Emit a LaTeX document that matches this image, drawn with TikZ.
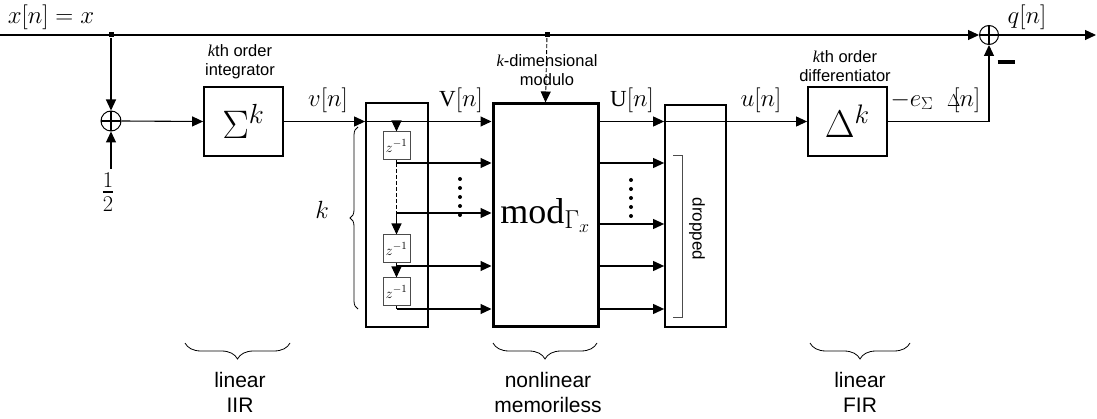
\documentclass[tikz,border=0pt]{standalone}
\usepackage{amsmath}
\usepackage{graphicx}
\usepackage{fontspec}
\setmainfont{Liberation Serif}
\setsansfont{Liberation Sans}
\usetikzlibrary{positioning, arrows.meta, calc, decorations.pathreplacing}

\begin{document}
\begin{tikzpicture}[
    x=1pt, y=-1pt,
    line width=1.1pt,
    >={Triangle[length=11pt,width=10pt]},
    block/.style   ={rectangle, draw, line width=1.8pt, inner sep=0pt, minimum width=79pt, minimum height=69pt, font=\fontsize{24}{26}\selectfont},
    delaybox/.style={rectangle, draw=black!70, line width=1pt, inner sep=0pt, minimum width=27pt, minimum height=28pt, font=\fontsize{15}{15}\selectfont},
    sumnode/.style ={circle, draw, line width=1pt, inner sep=0pt, minimum size=20pt,
                     path picture={\draw[line width=2.4pt] (path picture bounding box.north) -- (path picture bounding box.south)
                                                           (path picture bounding box.west) -- (path picture bounding box.east);}},
    tap/.style     ={rectangle, fill, inner sep=0pt, minimum size=5pt},
    sig/.style     ={font=\fontsize{23}{25}\selectfont, inner sep=1pt},
    note/.style    ={font=\sffamily\fontsize{16.5}{19}\selectfont, align=center},
    group/.style   ={font=\sffamily\fontsize{21}{25}\selectfont, align=center},
    grpbrace/.style={decorate, decoration={brace, amplitude=#1}, line width=0.8pt},
    grpbrace/.default=16pt,
    arrow/.style   ={->},
]
\useasboundingbox (0,0) rectangle (1097,419);

%==================== INPUT AND INTEGRATOR ====================

\coordinate (xin) at (0,35);
\node[tap] (tapx)   at (111,35) {};
\node[tap] (tapmod) at (547,35) {};
\node[sumnode, minimum size=19pt] (sumq) at (989,35) {};
\coordinate (qout) at (1096,35);

\node[sumnode] (sumv) at (111,121) {};
\node[font=\fontsize{24}{26}\selectfont] (half) at (108,192) {\scalebox{1.3}{$\frac{1}{2}$}};

\node[block] (integ) at (243.5,121.5) {\scalebox{1.6}{$\Sigma^{k}$}};

%==================== SHIFT REGISTER ====================

\node[block, minimum width=62pt, minimum height=224pt] (shiftreg) at (397,215) {};
\node[delaybox] (z1) at (396.5,146) {$z^{-1}$};
\node[delaybox] (z2) at (396.5,249) {$z^{-1}$};
\node[delaybox] (z3) at (396.5,292) {$z^{-1}$};

\coordinate (k2) at (396.5,163);
\coordinate (k3) at (396.5,213);
\coordinate (k4) at (396.5,266);
\coordinate (k5) at (396.5,309);

%==================== MODULO, DROP, DIFFERENTIATOR ====================

\node[block, line width=3pt, minimum width=105pt, minimum height=223pt] (modbox) at (545.5,215.5) {\scalebox{1.5}{$\mathrm{mod}_{\Gamma_x}$}};
\node[block, minimum width=61pt, minimum height=222pt] (dropbox) at (695.5,216) {};
\node[rotate=-90, font=\sffamily\fontsize{17}{17}\selectfont] (droplbl) at (697,229) {dropped};
\node[block] (diffr) at (847.5,121.5) {\scalebox{1.55}{$\Delta^{k}$}};

%==================== ARROWS (main flow) ====================

\draw[arrow] (xin) -- (sumq.west);
\draw[arrow] (sumq.east) -- (qout);
\draw[arrow] (tapx) -- (sumv.north);
\draw[arrow] (half.north -| sumv) -- (sumv.south);
\draw[arrow] (sumv.east) -- (integ.west);
\draw[arrow] (integ.east) -- (shiftreg.west |- integ.east);
\draw[arrow] (shiftreg.west |- integ.east) -- (modbox.west |- integ.east);

% delay chain
\draw[arrow] (z1.north |- integ.east) -- (z1.north);
\draw (z1.south) -- (k2);
\draw[line width=1.5pt, dash pattern=on 4pt off 2pt] (k2) -- (k3);
\draw[arrow] (k3) -- (z2.north);
\draw (z2.south) -- (k4);
\draw[arrow] (k4) -- (z3.north);
\draw (z3.south) -- (k5);
\foreach \k in {k2,k3,k4,k5}
  \draw[arrow] (\k) -- (modbox.west |- \k);
\foreach \i in {0,...,4}
  \fill (460,179+\i*9) circle (2pt);

% modulo outputs
\draw[arrow] (modbox.east |- integ.east) -- (dropbox.west |- integ.east);
\draw[arrow] (dropbox.west |- integ.east) -- (diffr.west);
\foreach \y in {163,224,266,309}
  \draw[arrow] (modbox.east |- 0,\y) -- (dropbox.west |- 0,\y);
\foreach \i in {0,...,4}
  \fill (631,180+\i*9) circle (2pt);
\draw[black!70, line width=0.9pt] (673,155) -- (682,155) -- (682,317) -- (673,317);

\draw[arrow] (diffr.east) -| (sumq.south);
\draw[arrow, line width=0.9pt, dash pattern=on 4pt off 2pt] (tapmod) -- (modbox.north);

%==================== LABELS ====================

\node[sig] (xlbl) at (51,17)   {$x[n] = x$};
\node[sig] (qlbl) at (1027,17) {$q[n]$};
\node[sig] (vlbl) at (328,100) {$v[n]$};
\node[sig] (Vlbl) at (461,100) {$\mathrm{V}[n]$};
\node[sig] (Ulbl) at (632,100) {$\mathrm{U}[n]$};
\node[sig] (ulbl) at (761,100) {$u[n]$};
\node[sig, anchor=west] (elbl) at (889,100) {$-e_{\Sigma}\;\;{\scriptstyle\Delta}\kern-7pt[n]$};
\node (minus) at (1006,62) {\rule{17pt}{3.5pt}};
\node[sig] (klbl) at (322,210) {$k$};
\draw[grpbrace=8pt] (358,309) -- (358,127);

\node[note] (integlbl) at (240,62) {{\rmfamily\itshape k}th order\\integrator};
\node[note] (difflbl)  at (845,66) {{\rmfamily\itshape k}th order\\differentiator};
\node[note] (modlbl)   at (547,70) {{\rmfamily\itshape k}-dimensional\\modulo};

%==================== GROUPS ====================

\draw[grpbrace] (290,343) -- (185,343);
\draw[grpbrace] (597,343) -- (493,343);
\draw[grpbrace] (910,343) -- (810,343);
\node[group] (iir) at (240,392) {linear\\IIR};
\node[group] (nl)  at (548,392) {nonlinear\\memoriless};
\node[group] (fir) at (860,392) {linear\\FIR};

\end{tikzpicture}
\end{document}
